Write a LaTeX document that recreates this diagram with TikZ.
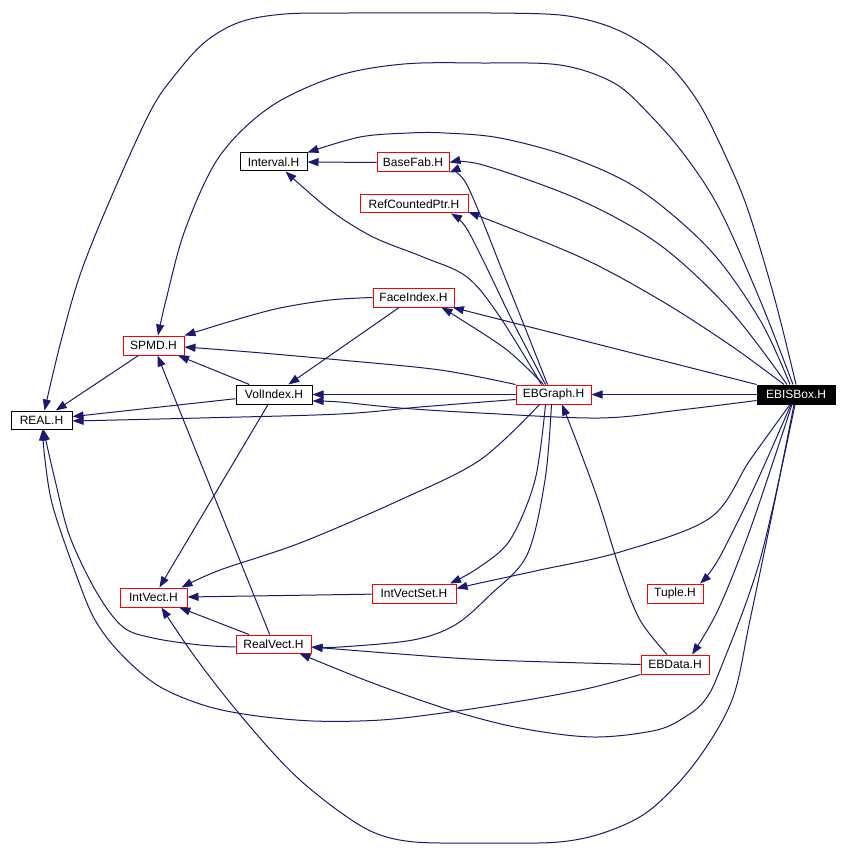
\documentclass[tikz,border=0pt]{standalone}
\usepackage{fontspec}
\setmainfont{Liberation Sans}
\usetikzlibrary{arrows.meta}
\definecolor{edgec}{RGB}{25,25,112}
\begin{document}
\begin{tikzpicture}[x=1pt,y=-1pt,
  hbox/.style={draw, line width=1pt, minimum height=19pt, inner sep=0pt, font=\fontsize{12}{14}\selectfont, fill=white},
  redbox/.style={hbox, draw=red},
  blackbox/.style={hbox, draw=black},
  focusbox/.style={hbox, draw=black, fill=black, text=white},
  edge/.style={draw=edgec, line width=1pt, -{Triangle[length=11pt,width=8pt]}},
  sm/.style={smooth, tension=0.55}]
\useasboundingbox[fill=white] (0,0) rectangle (848,858);
% nodes
\node[focusbox, minimum width=78pt] (EBISBox) at (796,394.5) {EBISBox.H};
\node[redbox, minimum width=75pt] (EBGraph) at (553.5,394.5) {EBGraph.H};
\node[blackbox, minimum width=61pt, minimum height=18pt] (REAL) at (41.5,420) {REAL.H};
\node[blackbox, minimum width=76pt] (VolIndex) at (274,394.5) {VolIndex.H};
\node[redbox, minimum width=61pt] (SPMD) at (153.5,345.5) {SPMD.H};
\node[blackbox, minimum width=67pt, minimum height=18pt] (Interval) at (273.5,162) {Interval.H};
\node[redbox, minimum width=72pt] (BaseFab) at (413,162.5) {BaseFab.H};
\node[redbox, minimum width=108pt, minimum height=18pt] (RCP) at (414,204) {RefCountedPtr.H};
\node[redbox, minimum width=81pt] (FaceIndex) at (413.5,297.5) {FaceIndex.H};
\node[redbox, minimum width=67pt] (IntVect) at (153.5,597.5) {IntVect.H};
\node[redbox, minimum width=84pt] (IntVectSet) at (414,593.5) {IntVectSet.H};
\node[redbox, minimum width=75pt, minimum height=18pt] (RealVect) at (273.5,644) {RealVect.H};
\node[redbox, minimum width=56pt] (Tuple) at (675,593.5) {Tuple.H};
\node[redbox, minimum width=68pt] (EBData) at (675,664.5) {EBData.H};

% EBISBox edges
\draw[edge] (EBISBox) -- (EBGraph);
\draw[edge] plot[sm] coordinates {([xshift=0pt]EBISBox.north) (775,300) (748,210) (726,157) (700,105) (672,68) (640,42) (605,25) (560,15) (490,13) (420,13) (350,13) (285,14) (240,22) (205,42) (175,75) (150,112) (110,200) (80,275) (60,345) ([xshift=3pt]REAL.north)};
\draw[edge] plot[sm] coordinates {([xshift=-3pt]EBISBox.north) (760,300) (720,210) (686,157) (650,115) (614,83) (560,65) (480,63) (404,64) (337,76) (270,107) (219,157) (185,230) (166,300) ([xshift=4.5pt]SPMD.north)};
\draw[edge] plot[sm] coordinates {([xshift=-6pt]EBISBox.north) (760,320) (710,250) (640,190) (570,157) (500,138) (445,133) (409,133) (360,137) (Interval.north east)};
\draw[edge] plot[sm] coordinates {([xshift=-9pt]EBISBox.north) (730,310) (660,245) (580,200) (483,165) (BaseFab.east)};
\draw[edge] plot[sm] coordinates {([xshift=-12pt]EBISBox.north) (730,345) (660,300) (580,257) ([yshift=-8pt]RCP.east)};
\draw[edge] (EBISBox) -- (FaceIndex);
\draw[edge] plot[sm] coordinates {([yshift=-6pt]EBISBox.west) (680,410) (600,418) (480,413) (400,408) (340,402) ([yshift=-6.5pt]VolIndex.east)};
\draw[edge] plot[sm] coordinates {([xshift=-2pt]EBISBox.south) (775,500) (750,620) (732,700) (695,763) (650,810) (606,832) (559,842) (487,843) (415,842) (375,833) (340,812) (300,780) (266,745) (224,695) (190,650) ([xshift=8pt]IntVect.south)};
\draw[edge] plot[sm] coordinates {([xshift=-6pt]EBISBox.south) (750,460) (710,518) (620,552) (540,570) (480,583) ([yshift=5pt]IntVectSet.east)};
\draw[edge] plot[sm] coordinates {([xshift=-5pt]EBISBox.south) (753,490) (718,560) ([xshift=25pt]Tuple.north)};
\draw[edge] plot[sm] coordinates {([xshift=-4pt]EBISBox.south) (750,530) (718,610) ([xshift=17pt]EBData.north)};
\draw[edge] plot[sm] coordinates {([xshift=-1pt]EBISBox.south) (760,560) (720,670) (705,700) (688,715) (657,730) (593,737) (520,728) (450,710) (370,682) ([xshift=26pt]RealVect.south)};

% EBGraph edges
\draw[edge] plot[sm] coordinates {([yshift=-5pt]EBGraph.west) (420,407) (340,414) (200,418) ([yshift=-1pt]REAL.east)};
\draw[edge] (EBGraph) -- (VolIndex);
\draw[edge] plot[sm] coordinates {(EBGraph.north west) (440,370) (340,360) (250,352) ([yshift=-1.5pt]SPMD.east)};
\draw[edge] plot[sm] coordinates {([xshift=-12pt]EBGraph.north) (500,317) (467,277) (423,257) (373,237) (330,210) ([xshift=12pt]Interval.south)};
\draw[edge] plot[sm] coordinates {([xshift=-6pt]EBGraph.north) (506,280) (467,185) (BaseFab.south east)};
\draw[edge] plot[sm] coordinates {([xshift=-8pt]EBGraph.north) (512,320) (483,260) (465,226) ([xshift=37pt]RCP.south)};
\draw[edge] plot[sm] coordinates {([xshift=-10pt]EBGraph.north) (507,350) (457,317) ([xshift=28pt]FaceIndex.south)};
\draw[edge] plot[sm] coordinates {([xshift=-14pt]EBGraph.south) (480,460) (400,500) (300,543) (220,570) ([xshift=28pt]IntVect.north)};
\draw[edge] plot[sm] coordinates {([xshift=-8pt]EBGraph.south) (535,480) (510,540) (478,568) ([xshift=36pt]IntVectSet.north)};
\draw[edge] plot[sm] coordinates {([xshift=-2pt]EBGraph.south) (545,480) (527,555) (490,595) (455,625) (413,640) (340,647) ([yshift=-3pt]RealVect.east)};

% EBData edges
\draw[edge] plot[sm] coordinates {([xshift=-8pt]EBData.north) (640,620) (620,570) (598,500) (576,440) ([xshift=8.5pt]EBGraph.south)};
\draw[edge] plot[sm] coordinates {(EBData.west) (490,660) (400,654) ([yshift=-3pt]RealVect.east)};
\draw[edge] plot[sm] coordinates {(EBData.south west) (590,688) (527,700) (450,712) (381,720) (313,721) (250,715) (203,705) (157,685) (120,653) (95,620) (77,577) (53,507) (45,460) ([xshift=1pt]REAL.south)};

% RealVect edges
\draw[edge] plot[sm] coordinates {([yshift=-3pt]RealVect.west) (200,645) (153,638) (123,627) (97,593) (70,537) (55,480) ([xshift=2pt]REAL.south)};
\draw[edge] (RealVect) -- (SPMD);
\draw[edge] (RealVect) -- (IntVect);

% others
\draw[edge] (IntVectSet) -- (IntVect);
\draw[edge] (VolIndex) -- (IntVect);
\draw[edge] (VolIndex) -- (SPMD);
\draw[edge] (VolIndex) -- (REAL);
\draw[edge] (SPMD) -- (REAL);
\draw[edge] (FaceIndex) -- (VolIndex);
\draw[edge] plot[sm] coordinates {(FaceIndex.west) (330,300) (280,308) (235,320) (SPMD.north east)};
\draw[edge] (BaseFab) -- (Interval);
\end{tikzpicture}
\end{document}
